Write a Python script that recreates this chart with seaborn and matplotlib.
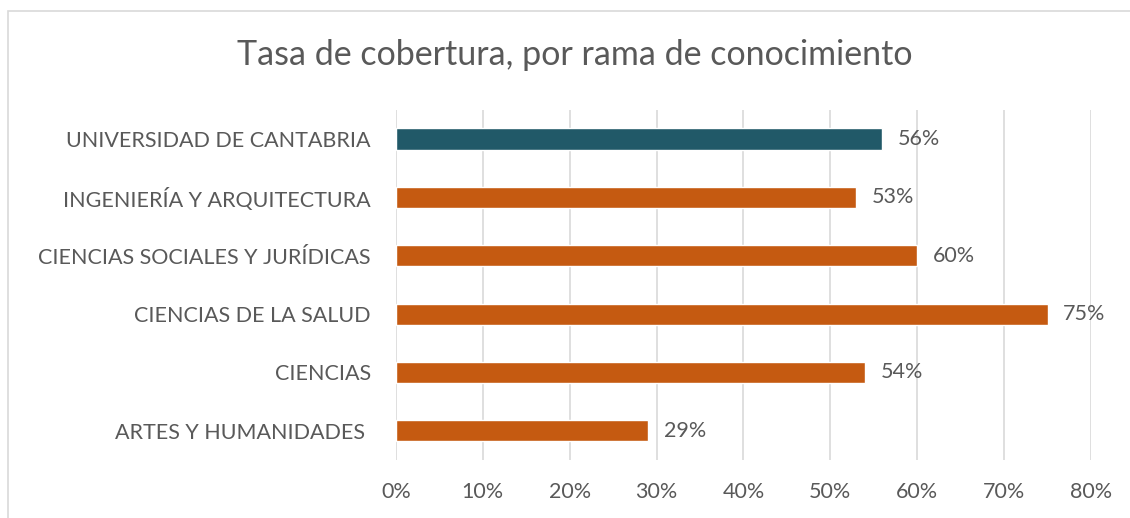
import pandas as pd
import matplotlib.pyplot as plt
import seaborn as sns
from matplotlib.patches import Rectangle
from matplotlib.ticker import PercentFormatter

sns.set_theme(style="white")
plt.rcParams["font.family"] = ["Lato", "DejaVu Sans"]

ramas = ["UNIVERSIDAD DE CANTABRIA", "INGENIERÍA Y ARQUITECTURA",
         "CIENCIAS SOCIALES Y JURÍDICAS", "CIENCIAS DE LA SALUD",
         "CIENCIAS", "ARTES Y HUMANIDADES "]
tasa = [56, 53, 60, 75, 54, 29]
colores = ["#215968", "#C55A11", "#C55A11", "#C55A11", "#C55A11", "#C55A11"]

df = pd.DataFrame({"rama": ramas, "tasa": tasa})
gris = "#595959"

fig = plt.figure(figsize=(11.3, 5.18), dpi=100)
ax = fig.add_axes([0.3504, 0.112, 0.6151, 0.676])

sns.barplot(data=df, x="tasa", y="rama", hue="rama", palette=colores,
            legend=False, width=0.36, saturation=1, ax=ax)

ax.set_xlim(0, 80)
ax.set_xticks(range(0, 81, 10))
ax.xaxis.set_major_formatter(PercentFormatter(decimals=0))
ax.grid(axis="x", color="#D9D9D9", linewidth=1.2)
ax.set_axisbelow(True)
for s in ax.spines.values():
    s.set_visible(False)
ax.set_xlabel("")
ax.set_ylabel("")
ax.tick_params(axis="x", length=0, pad=16, labelsize=15.5, labelcolor=gris)
ax.tick_params(axis="y", length=0, pad=18, labelsize=15.5, labelcolor=gris)

for i, v in enumerate(tasa):
    ax.text(v + 1.8, i, f"{v}%", va="center", ha="left", fontsize=15.5, color=gris)

fig.text(0.509, 0.893, "Tasa de cobertura, por rama de conocimiento",
         ha="center", va="center", fontsize=24.5, color=gris)

fig.patches.append(Rectangle((8 / 1130, -0.1), 1.2, 1 - 11 / 518 + 0.1,
                             transform=fig.transFigure, fill=False,
                             edgecolor="#D9D9D9", linewidth=1.2))

fig.savefig("out.png", dpi=100)
